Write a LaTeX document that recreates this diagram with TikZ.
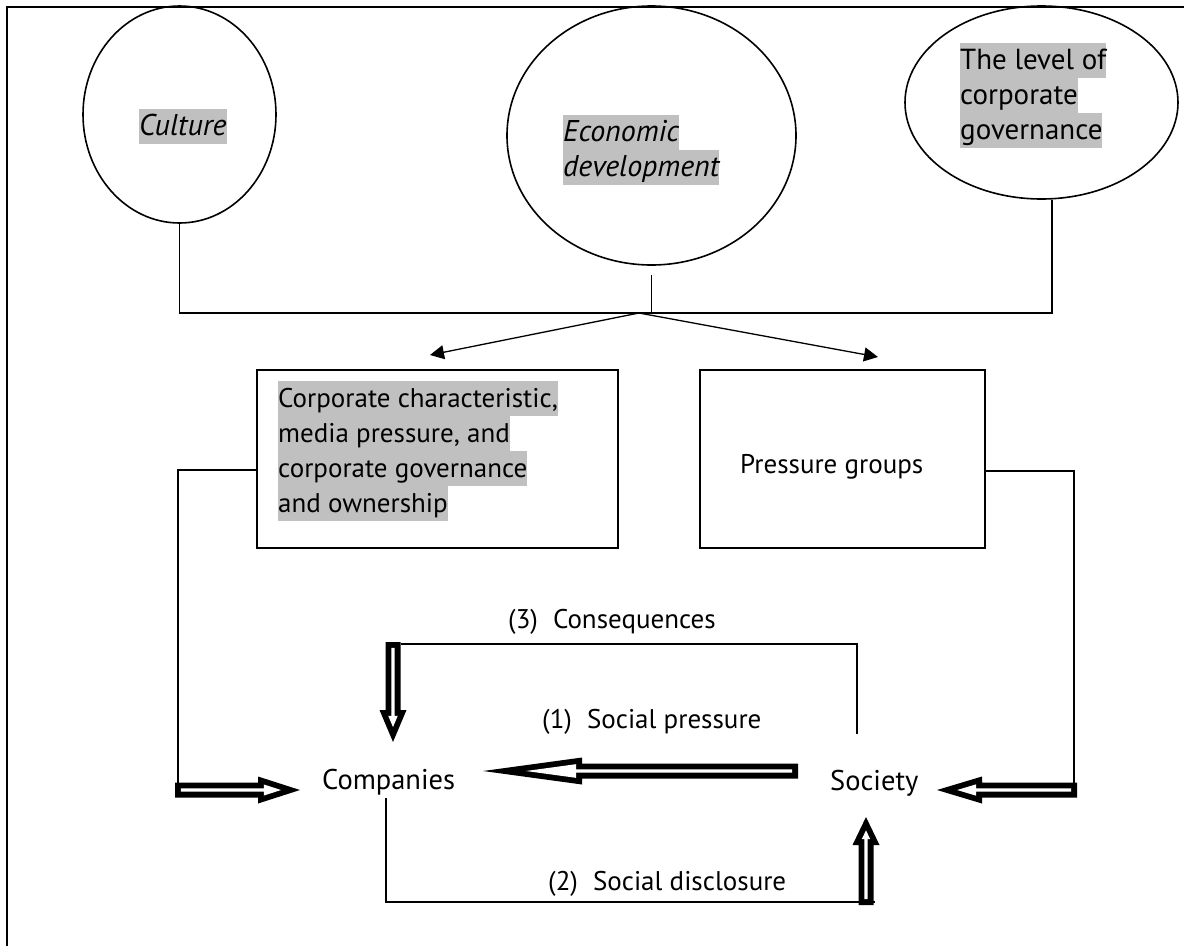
\documentclass[tikz,border=0pt]{standalone}
\usepackage{fontspec}
\setmainfont{PT Sans}
\usetikzlibrary{shapes.geometric,arrows.meta,calc}
\definecolor{hlgray}{RGB}{192,192,192}

% grey highlight band, one line high (35pt)
\newcommand\hl[1]{{\setlength{\fboxsep}{0pt}\colorbox{hlgray}{\rule[-9pt]{0pt}{35pt}#1}}}

% hollow block arrow: #1 tail coordinate, #2 tip coordinate, #3 head length (pt)
\def\baA{7.5}  % outer half width of the shaft
\def\baB{13.5} % outer half width of the head
\def\baT{5.8}  % thickness of the black rim
\newcommand\blockarrow[3]{%
  \pgfpointdiff{\pgfpointanchor{#1}{center}}{\pgfpointanchor{#2}{center}}%
  \pgfgetlastxy{\baDx}{\baDy}%
  \pgfmathsetmacro\baLen{veclen(\baDx,\baDy)}%
  \pgfmathsetmacro\baAng{atan2(\baDy,\baDx)}%
  \pgfmathsetmacro\baBase{\baLen-#3}%
  \pgfmathsetmacro\baIBase{\baLen-#3+\baT}%
  \pgfmathsetmacro\baITip{\baLen-\baT/sin(atan(\baB/#3))}%
  \pgfmathsetmacro\baIB{(\baITip-\baIBase)*\baB/#3}%
  \pgfmathsetmacro\baIA{\baA-\baT}%
  \begin{scope}[shift={(#1)}, rotate=\baAng, x=1pt, y=1pt]
    \fill[black] (0,-\baA) -- (\baBase,-\baA) -- (\baBase,-\baB) -- (\baLen,0)
      -- (\baBase,\baB) -- (\baBase,\baA) -- (0,\baA) -- cycle;
    \fill[white] (\baT,-\baIA) -- (\baIBase,-\baIA) -- (\baIBase,-\baIB) -- (\baITip,0)
      -- (\baIBase,\baIB) -- (\baIBase,\baIA) -- (\baT,\baIA) -- cycle;
  \end{scope}}

\begin{document}
\begin{tikzpicture}[x=1pt,y=-1pt,
  lbl/.style={font=\fontsize{27}{35}\selectfont, inner sep=0pt},
  block/.style={lbl, align=left},
  slant/.style={font=\fontsize{30}{35}\selectfont\itshape},
  oval/.style={draw, ellipse, line width=1.6pt, inner sep=0pt},
  panel/.style={draw, rectangle, line width=1.6pt, inner sep=0pt},
  wire/.style={line width=1.3pt},
  feed/.style={wire, -{Triangle[length=14pt,width=14pt]}}]

\useasboundingbox (0,0) rectangle (1184,946);

% frame
\draw[line width=2pt] (7,946) -- (7,7) -- (1184,7);

% influences
\node[oval, minimum width=193pt, minimum height=217pt] (cult) at (179.5,114.5) {};
\node[block, slant, anchor=north west] (cultT) at (139,109) {\hl{Culture}};

\node[oval, minimum width=289pt, minimum height=259pt] (econ) at (651.5,135.5) {};
\node[block, slant, anchor=north west] (econT) at (563,115) {\hl{Economic}\\\hl{development}};

\node[oval, minimum width=273pt, minimum height=193pt] (gov) at (1041.5,102.5) {};
\node[block, font=\fontsize{29}{35}\selectfont, anchor=north west] (govT) at (960,43)
  {\hl{The level of}\\\hl{corporate}\\\hl{governance}};

% joining bar
\coordinate (jn) at (639,313);
\coordinate (econfoot) at ($(econ.south)+(0,9)$);
\coordinate (govfoot) at ($(gov.south)+(10.5,0)$);
\draw[wire] (cult.south) |- (govfoot |- jn) -- (govfoot);
\draw[wire] (econfoot) -- (econfoot |- jn);

% middle boxes
\node[panel, minimum width=361pt, minimum height=178pt] (box1) at (437.5,459) {};
\node[block, anchor=north west] (box1T) at (278,381)
  {\hl{Corporate characteristic,}\\\hl{media pressure, and}\\\hl{corporate governance}\\\hl{and ownership}};
\node[panel, minimum width=285pt, minimum height=178pt] (box2) at (842.5,459) {};
\node[lbl, anchor=base west] (box2T) at (740,473) {Pressure groups};

\coordinate (a1) at (430,355);
\coordinate (a2) at (878,357);
\draw[feed] (jn) -- (a1);
\draw[feed] (jn) -- (a2);

% actors
\node[lbl, font=\fontsize{28.5}{35}\selectfont, anchor=base west] (comp) at (322,789) {Companies};
\node[lbl, font=\fontsize{28.5}{35}\selectfont, anchor=base west] (soc) at (830,790) {Society};

% labels of the loop
\node[lbl, anchor=base west] (l3) at (508,628) {(3)\hspace{15pt}Consequences};
\node[lbl, anchor=base west] (l1) at (542,728) {(1)\hspace{15pt}Social pressure};
\node[lbl, anchor=base west] (l2) at (548,890) {(2)\hspace{15pt}Social disclosure};

% block arrow ends
\coordinate (ctail) at (175,790);  \coordinate (ctip) at (300,790);
\coordinate (stail) at (1077,790); \coordinate (stip) at (937,790);
\coordinate (qtail) at (393,642);  \coordinate (qtip) at (393,742);
\coordinate (ptail) at (798,771);  \coordinate (ptip) at (483,771);
\coordinate (dtail) at (866,905);  \coordinate (dtip) at (866,817);
\coordinate (qstart) at (857,734);
\coordinate (dstart) at (386,798);

% connectors from the boxes
\draw[wire] ($(box1.west)+(0,11)$) -| ($(ctail)+(3,-7)$);
\draw[wire] ($(box2.east)+(0,12)$) -| ($(stail)+(-3,-7)$);

% loop lines
\draw[wire] (qstart) |- ($(qtail)+(7.5,2)$);
\draw[wire] (dstart) |- ($(dtail)+(9,-3)$);

% hollow block arrows
\blockarrow{ctail}{ctip}{42}
\blockarrow{stail}{stip}{45}
\blockarrow{qtail}{qtip}{32}
\blockarrow{ptail}{ptip}{99}
\blockarrow{dtail}{dtip}{28}

\end{tikzpicture}
\end{document}
